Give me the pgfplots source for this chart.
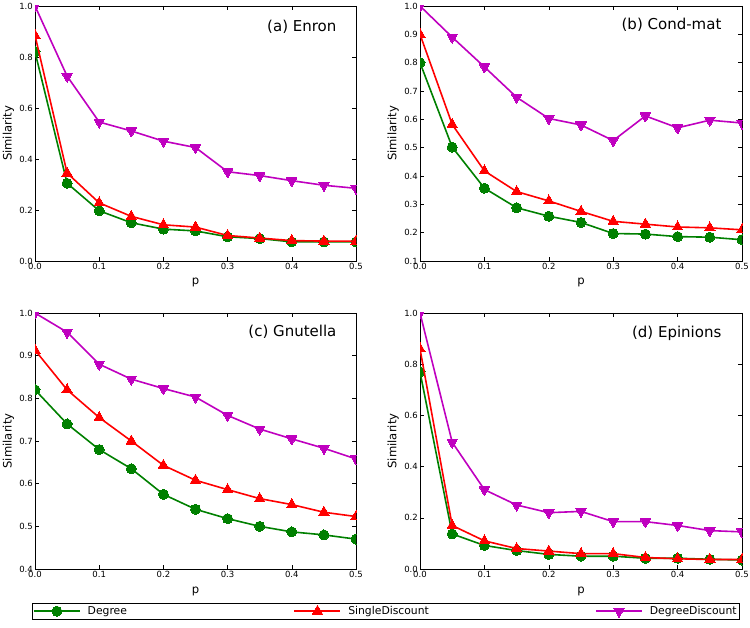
\documentclass[border=0pt]{standalone}
\usepackage{pgfplots}
\pgfplotsset{compat=1.18}
\usepackage{fontspec}
\setmainfont{DejaVu Sans}
\definecolor{mgreen}{rgb}{0,0.5,0}
\definecolor{mred}{rgb}{1,0,0}
\definecolor{mmag}{rgb}{0.75,0,0.75}
\pgfplotsset{
  base/.style={
    scale only axis, anchor=north west,
    xmin=0, xmax=0.5,
    xtick={0,0.1,0.2,0.3,0.4,0.5},
    /pgf/number format/assume math mode=true,
    xticklabel style={inner sep=1.5pt,/pgf/number format/.cd,fixed,fixed zerofill,precision=1},
    yticklabel style={inner sep=2pt,/pgf/number format/.cd,fixed,fixed zerofill,precision=1},
    tick label style={font=\fontsize{8.5}{10}\selectfont},
    tick style={black, line width=0.5pt},
    major tick length=4pt,
    xlabel={p}, ylabel={Similarity},
    every axis x label/.style={at={(axis description cs:0.5,-0.086)},anchor=center,font=\fontsize{11.6}{13}\selectfont},
    every axis y label/.style={at={(axis description cs:-0.083,0.5)},rotate=90,anchor=center,font=\fontsize{11.6}{13}\selectfont},
    clip marker paths=true,
    axis line style={line width=0.6pt},
    every axis plot/.append style={line width=1.6pt},
    legend image code/.code={\draw[mark repeat=2,mark phase=2] plot coordinates {(0pt,0pt) (23pt,0pt) (46pt,0pt)};},
  },
  deg/.style={color=mgreen, mark=*, mark size=5pt, mark options={fill=mgreen, draw=mgreen, line width=0pt}},
  sd/.style={color=mred, mark=triangle*, mark size=6pt, mark options={fill=mred, draw=mred, line width=0pt}},
  dd/.style={color=mmag, mark=triangle*, mark size=6pt, mark options={fill=mmag, draw=mmag, rotate=180, line width=0pt}},
}
\begin{document}
\begin{tikzpicture}
\path[use as bounding box] (0,0) rectangle (750pt,-628pt);
% (a) Enron
\begin{axis}[base, at={(35pt,-6pt)}, width=321pt, height=255pt,
  ymin=0, ymax=1, ytick={0,0.2,0.4,0.6,0.8,1.0}]
\addplot[deg] coordinates {(0,0.82) (0.05,0.305) (0.1,0.197) (0.15,0.15) (0.2,0.125) (0.25,0.118) (0.3,0.095) (0.35,0.088) (0.4,0.075) (0.45,0.075) (0.5,0.075)};
\addplot[sd] coordinates {(0,0.885) (0.05,0.345) (0.1,0.228) (0.15,0.175) (0.2,0.142) (0.25,0.133) (0.3,0.10) (0.35,0.09) (0.4,0.08) (0.45,0.078) (0.5,0.078)};
\addplot[dd] coordinates {(0,1.0) (0.05,0.725) (0.1,0.545) (0.15,0.51) (0.2,0.47) (0.25,0.445) (0.3,0.35) (0.35,0.335) (0.4,0.315) (0.45,0.297) (0.5,0.285)};
\node[anchor=east, font=\fontsize{15}{17}\selectfont] at (axis description cs:0.95,0.92) {(a) Enron};
\end{axis}
% (b) Cond-mat
\begin{axis}[base, at={(420pt,-6pt)}, width=322pt, height=255pt,
  ymin=0.1, ymax=1, ytick={0.1,0.2,0.3,0.4,0.5,0.6,0.7,0.8,0.9,1.0}]
\addplot[deg] coordinates {(0,0.80) (0.05,0.502) (0.1,0.357) (0.15,0.288) (0.2,0.258) (0.25,0.236) (0.3,0.197) (0.35,0.195) (0.4,0.186) (0.45,0.184) (0.5,0.175)};
\addplot[sd] coordinates {(0,0.90) (0.05,0.582) (0.1,0.418) (0.15,0.345) (0.2,0.312) (0.25,0.275) (0.3,0.240) (0.35,0.230) (0.4,0.220) (0.45,0.217) (0.5,0.210)};
\addplot[dd] coordinates {(0,1.0) (0.05,0.89) (0.1,0.785) (0.15,0.678) (0.2,0.603) (0.25,0.58) (0.3,0.525) (0.35,0.612) (0.4,0.57) (0.45,0.597) (0.5,0.587)};
\node[anchor=east, font=\fontsize{15}{17}\selectfont] at (axis description cs:0.947,0.925) {(b) Cond-mat};
\end{axis}
% (c) Gnutella
\begin{axis}[base, at={(35pt,-313pt)}, width=321pt, height=256pt,
  ymin=0.4, ymax=1, ytick={0.4,0.5,0.6,0.7,0.8,0.9,1.0},
  legend columns=3,
  legend style={at={(axis description cs:-0.01,-0.133)}, anchor=north west, draw=black, line width=0.6pt,
    font=\fontsize{10.8}{12}\selectfont, inner sep=1pt,
    /tikz/every odd column/.append style={column sep=5pt},
    /tikz/every even column/.append style={column sep=2pt}},
  legend cell align=left]
\addplot[deg] coordinates {(0,0.82) (0.05,0.74) (0.1,0.68) (0.15,0.635) (0.2,0.575) (0.25,0.54) (0.3,0.518) (0.35,0.50) (0.4,0.487) (0.45,0.48) (0.5,0.47)};
\addlegendentry{\makebox[202pt][l]{Degree}}
\addplot[sd] coordinates {(0,0.913) (0.05,0.82) (0.1,0.755) (0.15,0.70) (0.2,0.643) (0.25,0.608) (0.3,0.586) (0.35,0.565) (0.4,0.551) (0.45,0.533) (0.5,0.523)};
\addlegendentry{\makebox[243pt][l]{SingleDiscount}}
\addplot[dd] coordinates {(0,1.0) (0.05,0.955) (0.1,0.88) (0.15,0.845) (0.2,0.823) (0.25,0.803) (0.3,0.76) (0.35,0.728) (0.4,0.705) (0.45,0.683) (0.5,0.658)};
\addlegendentry{DegreeDiscount}
\node[anchor=east, font=\fontsize{15}{17}\selectfont] at (axis description cs:0.95,0.926) {(c) Gnutella};
\end{axis}
% (d) Epinions
\begin{axis}[base, at={(420pt,-313pt)}, width=322pt, height=256pt,
  ymin=0, ymax=1, ytick={0,0.2,0.4,0.6,0.8,1.0}]
\addplot[deg] coordinates {(0,0.77) (0.05,0.137) (0.1,0.092) (0.15,0.072) (0.2,0.057) (0.25,0.05) (0.3,0.05) (0.35,0.042) (0.4,0.042) (0.45,0.038) (0.5,0.035)};
\addplot[sd] coordinates {(0,0.86) (0.05,0.17) (0.1,0.11) (0.15,0.08) (0.2,0.07) (0.25,0.06) (0.3,0.06) (0.35,0.045) (0.4,0.04) (0.45,0.037) (0.5,0.037)};
\addplot[dd] coordinates {(0,1.0) (0.05,0.495) (0.1,0.31) (0.15,0.25) (0.2,0.22) (0.25,0.225) (0.3,0.185) (0.35,0.185) (0.4,0.17) (0.45,0.15) (0.5,0.145)};
\node[anchor=east, font=\fontsize{15}{17}\selectfont] at (axis description cs:0.947,0.92) {(d) Epinions};
\end{axis}
\end{tikzpicture}
\end{document}
